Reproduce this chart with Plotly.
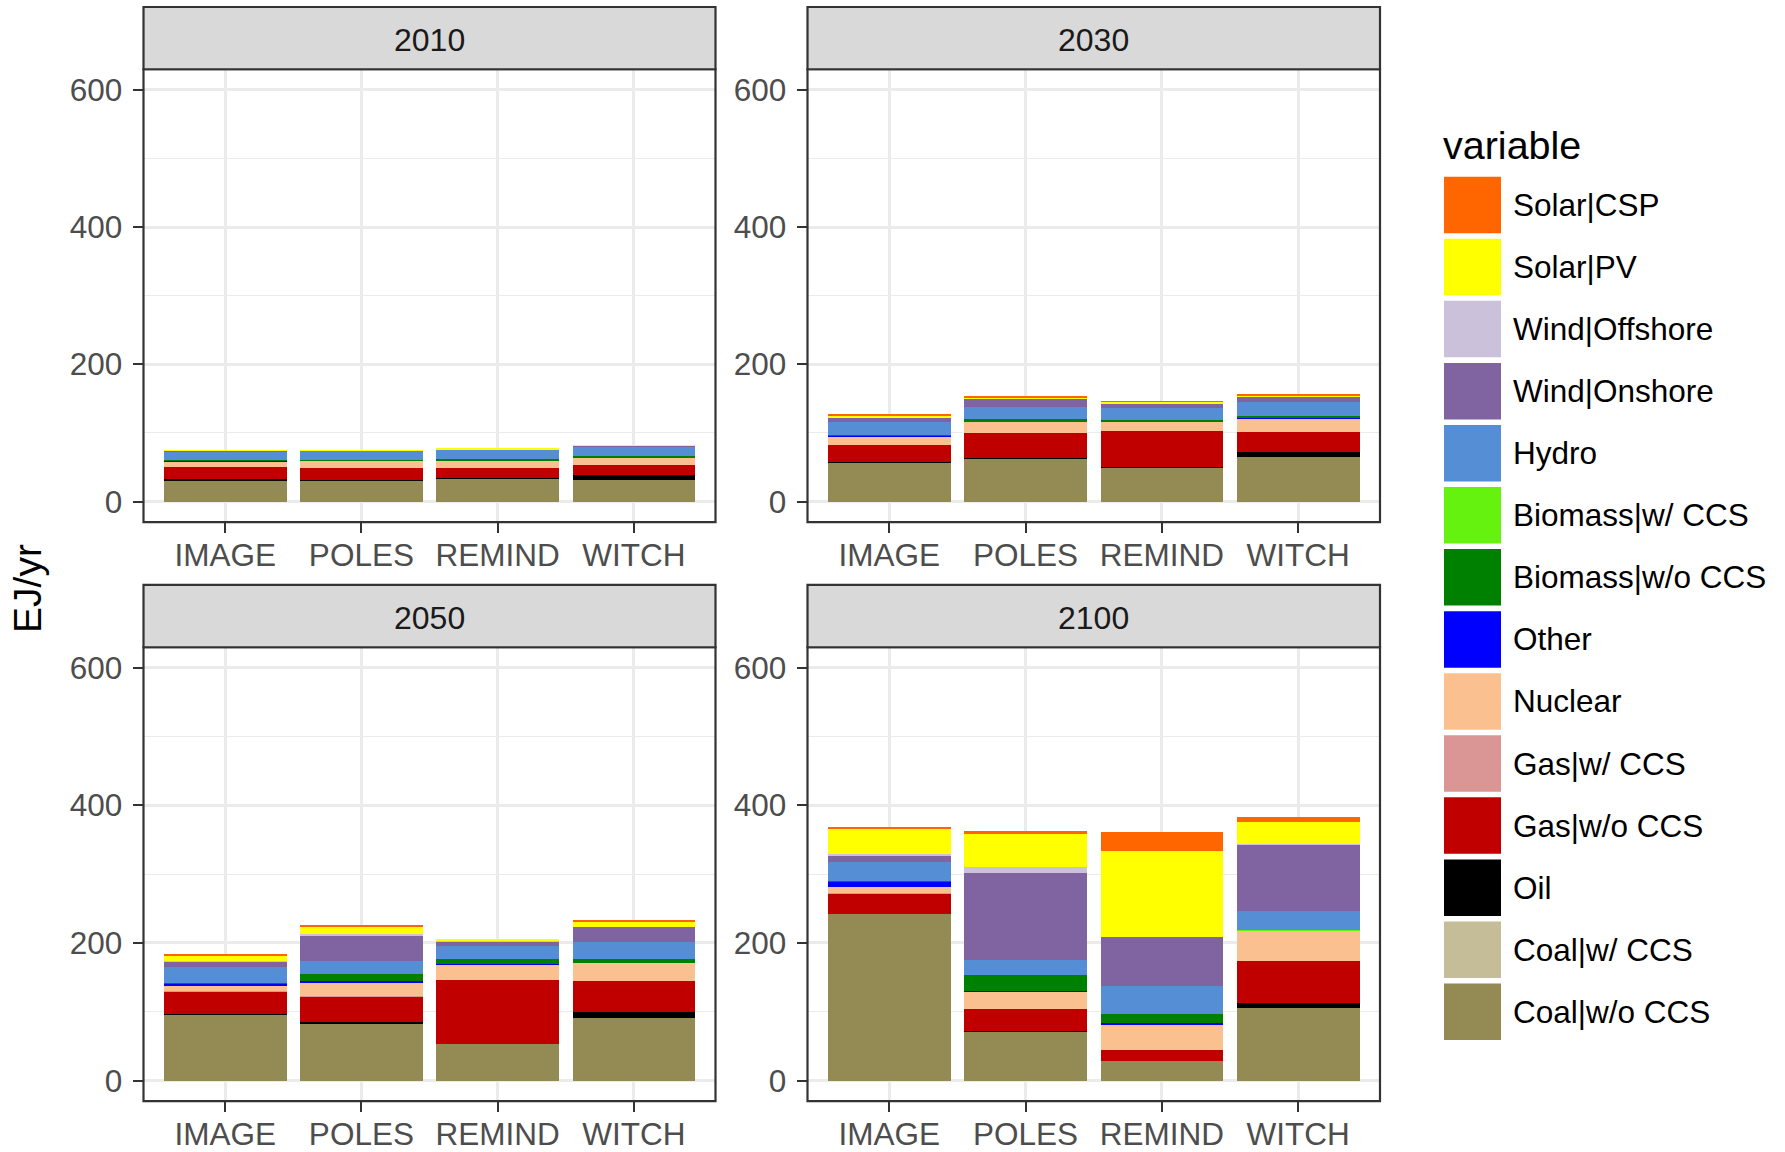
import plotly.graph_objects as go

W, H = 1785, 1152
FONT = "Liberation Sans, Arial, sans-serif"

models = ["IMAGE", "POLES", "REMIND", "WITCH"]
years = ["2010", "2030", "2050", "2100"]

# legend order (top to bottom); stacking is the reverse (Coal|w/o CCS at bottom)
variables = ["Solar|CSP", "Solar|PV", "Wind|Offshore", "Wind|Onshore", "Hydro",
             "Biomass|w/ CCS", "Biomass|w/o CCS", "Other", "Nuclear", "Gas|w/ CCS",
             "Gas|w/o CCS", "Oil", "Coal|w/ CCS", "Coal|w/o CCS"]
colors = ["#FF6600", "#FFFF00", "#CCC1DA", "#8064A2", "#558ED5",
          "#66F20F", "#008000", "#0000FF", "#FAC090", "#D99694",
          "#C00000", "#000000", "#C4BD97", "#948A54"]

# values per model: IMAGE, POLES, REMIND, WITCH  (EJ/yr)
data_2010 = {
    "Coal|w/o CCS": [30, 30.5, 33.5, 31.5], "Coal|w/ CCS": [0, 0, 0, 0],
    "Oil": [3, 1.5, 1, 6.8], "Gas|w/o CCS": [17, 17, 14.5, 15], "Gas|w/ CCS": [0, 0, 0, 0],
    "Nuclear": [8.5, 10, 11, 11], "Other": [1, 0, 0, 0], "Biomass|w/o CCS": [1.5, 2, 2, 1.5],
    "Biomass|w/ CCS": [0, 0, 0, 0], "Hydro": [12, 13, 13.5, 14], "Wind|Onshore": [0.5, 0.5, 0.3, 1.5],
    "Wind|Offshore": [0, 0, 0, 0.3], "Solar|PV": [0.8, 0.2, 1, 0.2], "Solar|CSP": [0, 0, 0, 0],
}
data_2030 = {
    "Coal|w/o CCS": [56.3, 62, 50, 64.5], "Coal|w/ CCS": [0, 0, 0, 0],
    "Oil": [1, 2, 0.3, 7.8], "Gas|w/o CCS": [24.7, 36, 52.4, 29], "Gas|w/ CCS": [0, 0, 0, 0],
    "Nuclear": [12, 16, 13.6, 20], "Other": [1.5, 0.5, 0.7, 0.3], "Biomass|w/o CCS": [1.5, 3.5, 1.5, 3],
    "Biomass|w/ CCS": [0, 0, 0, 0], "Hydro": [19.4, 17.5, 18, 21], "Wind|Onshore": [5.3, 12, 5.8, 7],
    "Wind|Offshore": [1, 0.5, 0.3, 0.3], "Solar|PV": [2.5, 2, 2.4, 2], "Solar|CSP": [1.5, 1, 0.2, 1],
}
data_2050 = {
    "Coal|w/o CCS": [96, 83, 52.7, 90.7], "Coal|w/ CCS": [0, 0, 0, 0],
    "Oil": [0.3, 2.4, 0, 9.3], "Gas|w/o CCS": [32.7, 37, 93.7, 45.4], "Gas|w/ CCS": [1, 0.5, 0, 0],
    "Nuclear": [7.3, 20, 21.5, 25.9], "Other": [3.4, 2.4, 1.5, 0.3], "Biomass|w/o CCS": [1.5, 9.3, 6.8, 5.6],
    "Biomass|w/ CCS": [0, 0, 0, 0], "Hydro": [23, 19, 19.5, 24], "Wind|Onshore": [7.8, 36.6, 6.3, 22.4],
    "Wind|Offshore": [1, 2.4, 0.3, 0.3], "Solar|PV": [6.8, 10.7, 3, 6.3], "Solar|CSP": [2, 3.4, 0, 1.5],
}
data_2100 = {
    "Coal|w/o CCS": [242.4, 70.7, 28.3, 105.9], "Coal|w/ CCS": [0, 0, 0, 0],
    "Oil": [0.3, 1, 0, 6.3], "Gas|w/o CCS": [29.3, 32.7, 16.6, 61], "Gas|w/ CCS": [1, 0, 0, 0],
    "Nuclear": [8.8, 24.4, 36.6, 43.9], "Other": [7.8, 1.5, 2, 0], "Biomass|w/o CCS": [0.5, 23.4, 12.7, 1],
    "Biomass|w/ CCS": [0, 0, 0, 1], "Hydro": [27.3, 22, 41.5, 27.8], "Wind|Onshore": [8.8, 126.3, 71.7, 96.6],
    "Wind|Offshore": [3.9, 8.8, 0, 0.3], "Solar|PV": [36, 47.8, 124.4, 31.7], "Solar|CSP": [3, 3.9, 27.8, 7.3],
}
panel_data = [data_2010, data_2030, data_2050, data_2100]

y_ticks = [0, 200, 400, 600]


def px(x):
    return x / W


def py(y):
    return 1 - y / H


# panel geometry in pixels: (left, right, top, bottom) of plot area; strip above
cols = [(143.5, 715.5), (807.5, 1380)]
rows = [(69.5, 524), (649.5, 1105)]
strip_h = 62.5

fig = go.Figure()
shapes = []
annotations = []

for k, year in enumerate(years):
    r, c = divmod(k, 2)
    x0, x1 = cols[c]
    y0, y1 = rows[r]
    ax = "" if k == 0 else str(k + 1)
    d = panel_data[k]
    for var in reversed(variables):
        fig.add_trace(go.Bar(
            x=models, y=d[var], name=var,
            marker=dict(color=colors[variables.index(var)], line=dict(width=0)),
            width=0.9, showlegend=False,
            xaxis="x" + ax, yaxis="y" + ax,
            hovertemplate=var + ": %{y}<extra></extra>",
        ))
    fig.update_layout(**{
        "xaxis" + ax: dict(
            domain=[px(x0), px(x1)], anchor="y" + ax, type="category",
            categoryorder="array", categoryarray=models,
            range=[-0.6, 3.6], showgrid=True, gridcolor="#EBEBEB", gridwidth=2.6,
            ticks="outside", ticklen=10, tickwidth=2.2, tickcolor="#333333",
            tickfont=dict(size=31.5, color="#4D4D4D", family=FONT),
            ticklabelstandoff=-5,
            showline=False, zeroline=False, fixedrange=True,
        ),
        "yaxis" + ax: dict(
            domain=[py(y1), py(y0)], anchor="x" + ax,
            range=[-30, 630], tickvals=y_ticks, ticktext=[str(t) for t in y_ticks],
            showgrid=True, gridcolor="#EBEBEB", gridwidth=2.6,
            minor=dict(dtick=100, tick0=0, showgrid=True, gridcolor="#EBEBEB", gridwidth=1.4),
            ticks="outside", ticklen=10, tickwidth=2.2, tickcolor="#333333",
            tickfont=dict(size=31.5, color="#4D4D4D", family=FONT),
            ticklabelstandoff=4,
            showline=False, zeroline=False, fixedrange=True,
        ),
    })
    # panel border
    shapes.append(dict(type="rect", xref="paper", yref="paper",
                       x0=px(x0), x1=px(x1), y0=py(y1), y1=py(y0),
                       line=dict(color="#333333", width=2.2), fillcolor="rgba(0,0,0,0)",
                       layer="above"))
    # strip
    shapes.append(dict(type="rect", xref="paper", yref="paper",
                       x0=px(x0), x1=px(x1), y0=py(y0), y1=py(y0 - strip_h),
                       line=dict(color="#333333", width=2.2), fillcolor="#D9D9D9",
                       layer="above"))
    annotations.append(dict(text=year, xref="paper", yref="paper",
                            x=px((x0 + x1) / 2), y=py(y0 - strip_h / 2 + 1.5),
                            xanchor="center", yanchor="middle", showarrow=False,
                            font=dict(size=32, color="#1A1A1A", family=FONT)))

# y axis title
annotations.append(dict(text="EJ/yr", xref="paper", yref="paper",
                        x=px(28), y=py(591), textangle=-90,
                        xanchor="center", yanchor="middle", showarrow=False,
                        font=dict(size=39, color="black", family=FONT)))

# legend (drawn manually to get ggplot-style key boxes)
annotations.append(dict(text="variable", xref="paper", yref="paper",
                        x=px(1441), y=py(146), xanchor="left", yanchor="middle",
                        showarrow=False, font=dict(size=39.5, color="black", family=FONT)))
key_top, key_step, key_w, key_h = 177.3, 62.28, 57, 56.7
for i, var in enumerate(variables):
    top = key_top + i * key_step
    shapes.append(dict(type="rect", xref="paper", yref="paper",
                       x0=px(1444), x1=px(1444 + key_w), y0=py(top + key_h), y1=py(top),
                       line=dict(width=0), fillcolor=colors[i]))
    annotations.append(dict(text=var, xref="paper", yref="paper",
                            x=px(1510.5), y=py(top + key_h / 2), xanchor="left", yanchor="middle",
                            showarrow=False, font=dict(size=31.5, color="black", family=FONT)))

fig.update_layout(
    width=W, height=H, margin=dict(l=0, r=0, t=0, b=0),
    barmode="stack", bargap=0.1,
    plot_bgcolor="white", paper_bgcolor="white",
    font=dict(family=FONT),
    shapes=shapes, annotations=annotations, showlegend=False,
)

post = ("var gd=document.getElementById('{plot_id}');"
        "gd.style.position='fixed';gd.style.left='0px';gd.style.top='0px';"
        "document.body.style.margin='0';document.body.style.overflow='hidden';"
        "document.documentElement.style.overflow='hidden';")

fig.write_html("out.html", config={"displayModeBar": False}, post_script=post)
